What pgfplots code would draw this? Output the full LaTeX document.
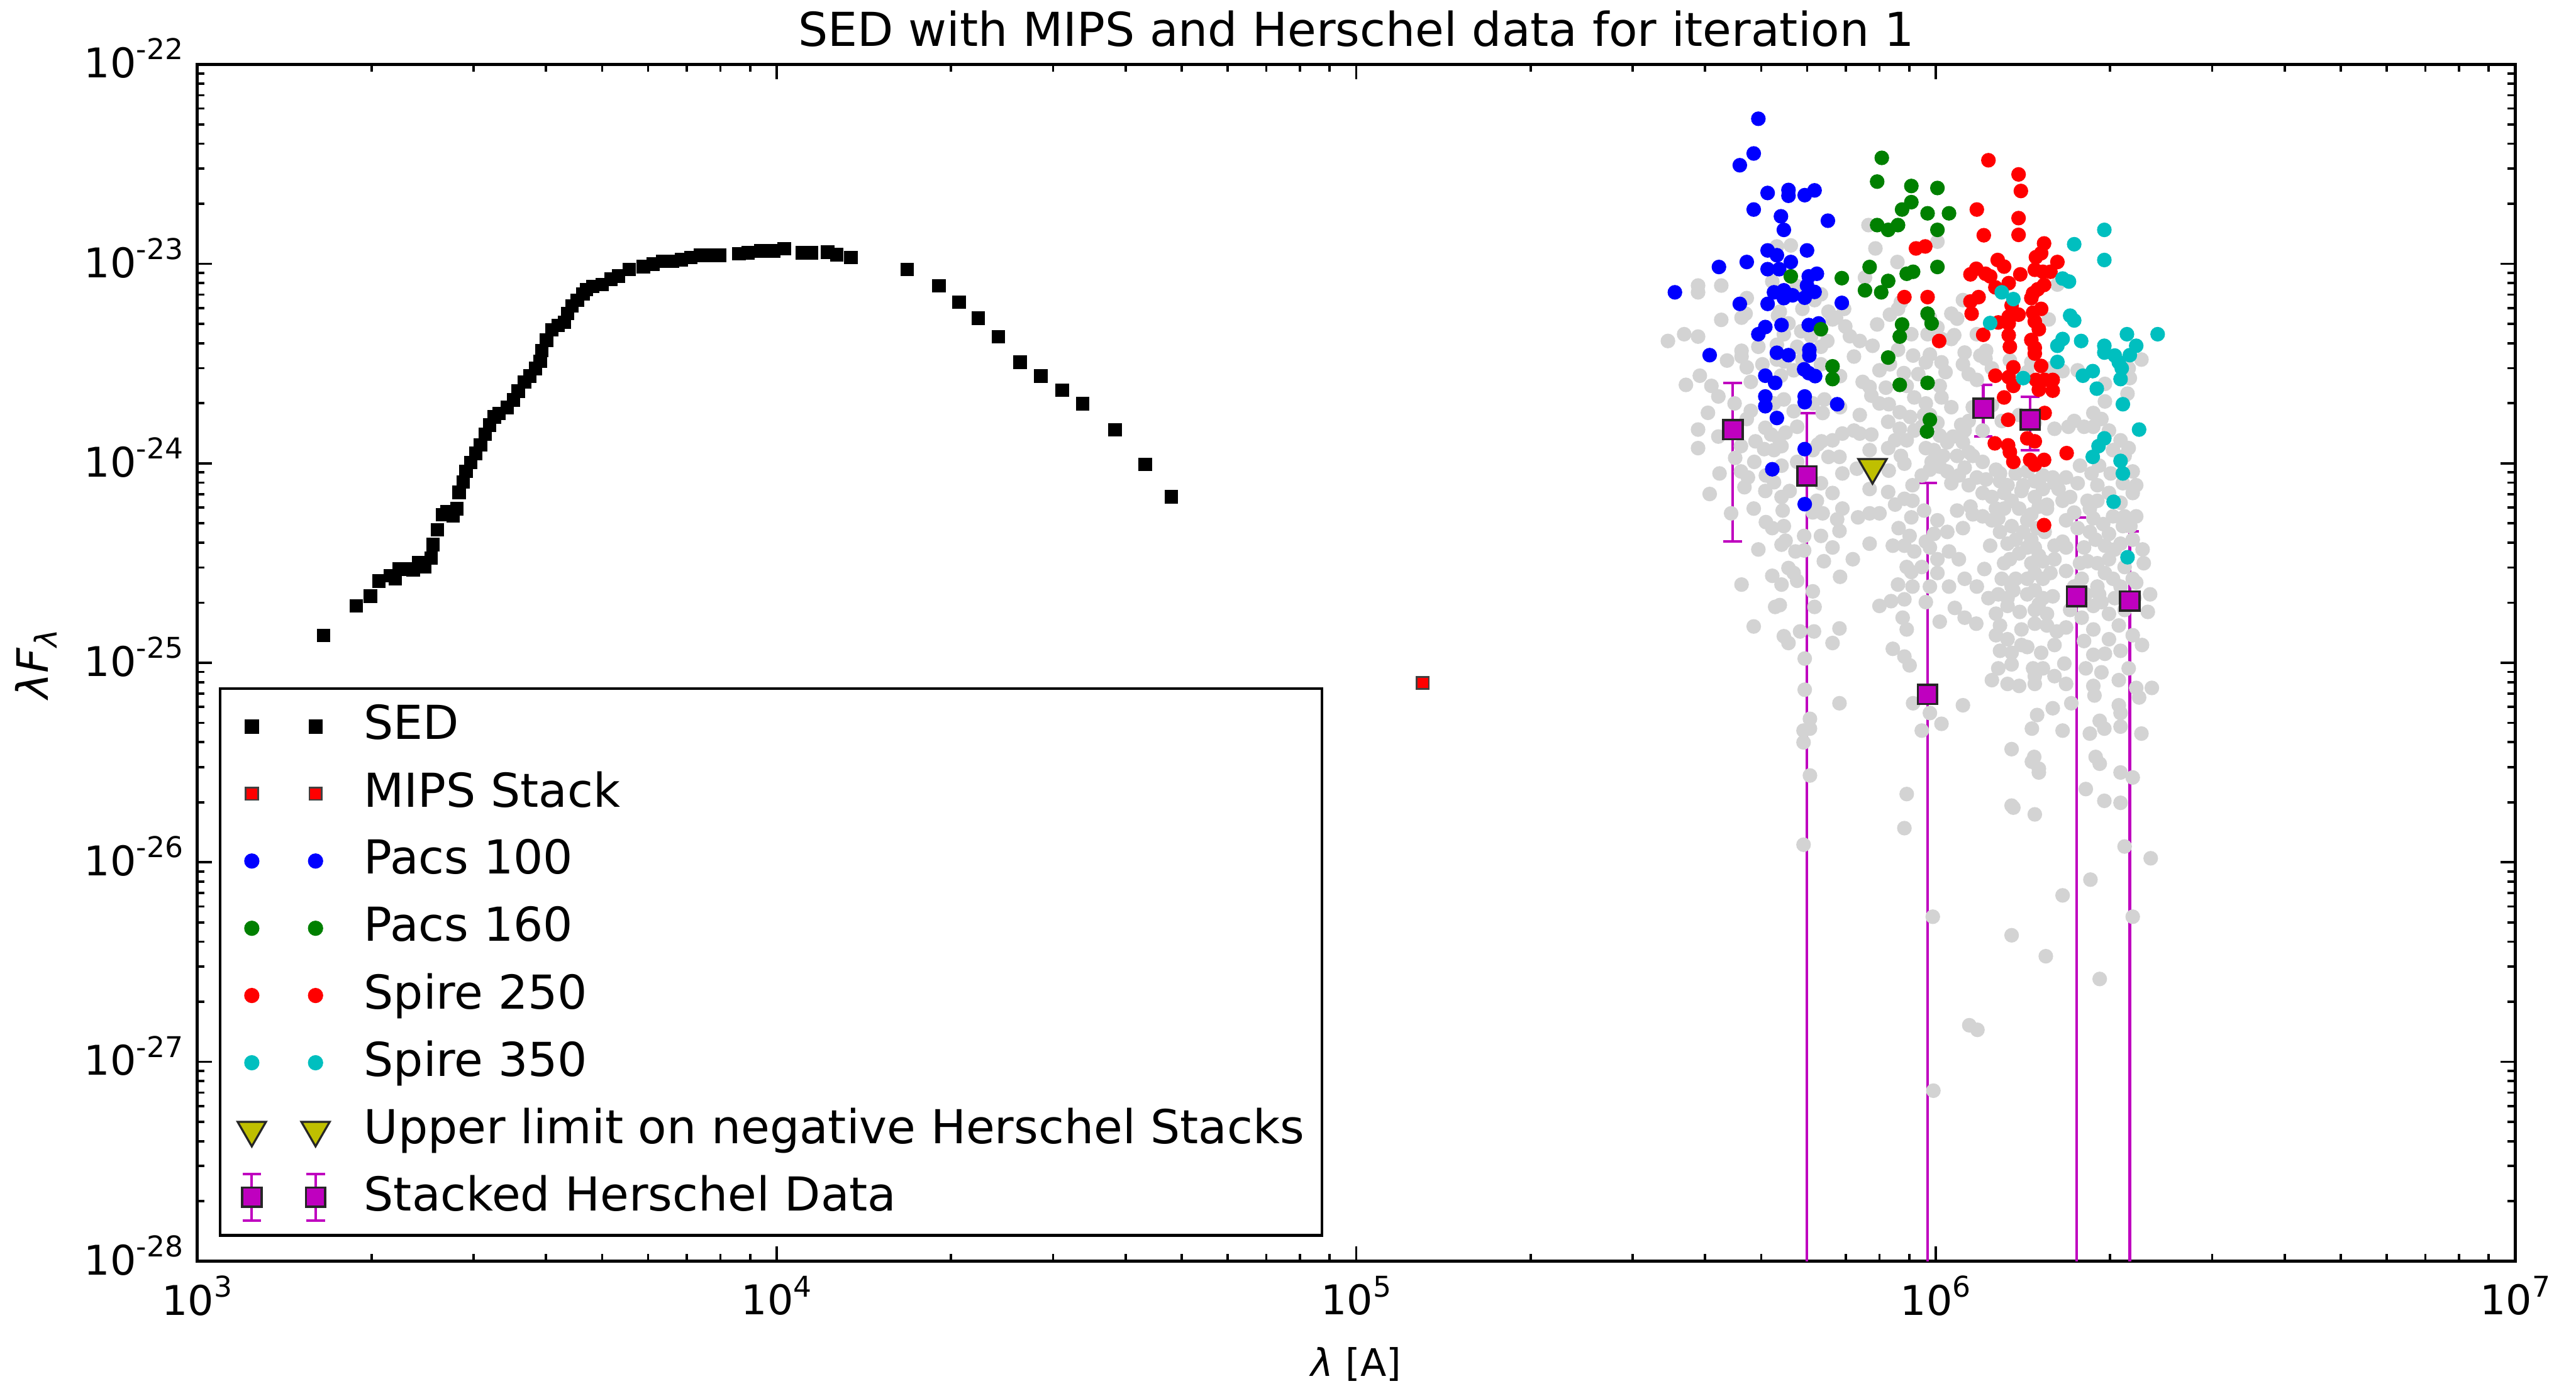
\documentclass[border=0pt]{standalone}
\usepackage{fontspec}
\setmainfont{DejaVu Sans}
\usepackage{pgfplots}
\usepackage{pgfplotstable}
\pgfplotsset{compat=1.18}
\definecolor{mplb}{rgb}{0,0,1}
\definecolor{mplg}{rgb}{0,0.5,0}
\definecolor{mplr}{rgb}{1,0,0}
\definecolor{mplc}{rgb}{0,0.75,0.75}
\definecolor{mply}{rgb}{0.75,0.75,0}
\definecolor{mplm}{rgb}{0.75,0,0.75}
\definecolor{lgray}{RGB}{211,211,211}
\newcommand{\fs}{\fontsize{8pt}{9.6pt}\selectfont}
\newcommand{\lfs}{\fontsize{6.5pt}{7.8pt}\selectfont}
\newcommand{\yfs}{\fontsize{7.4pt}{8.8pt}\selectfont}
\newcommand{\tfs}{\fontsize{7pt}{8.4pt}\selectfont}
\newcommand{\tl}[1]{10\raisebox{3.1pt}{\fontsize{4.9pt}{5.9pt}\selectfont #1}}
\pgfplotsset{legend image code/.code={\path[draw=none,fill=none] (-2.2pt,-4.5pt) rectangle (13.1pt,4.5pt);\draw[#1] plot coordinates {(0pt,0pt) (10.9pt,0pt)};}}
% values are log10(lambda [A]) and log10(lambda F_lambda)
\pgfplotstableread{
lx ly
3.218 -24.863
3.275 -24.714
3.299 -24.666
3.314 -24.590
3.333 -24.564
3.342 -24.579
3.349 -24.530
3.363 -24.530
3.373 -24.534
3.382 -24.497
3.393 -24.519
3.404 -24.475
3.407 -24.407
3.415 -24.333
3.424 -24.258
3.431 -24.243
3.442 -24.265
3.448 -24.228
3.452 -24.146
3.459 -24.093
3.464 -24.041
3.472 -23.996
3.481 -23.951
3.489 -23.907
3.497 -23.854
3.505 -23.809
3.513 -23.768
3.521 -23.750
3.535 -23.720
3.546 -23.682
3.554 -23.638
3.565 -23.593
3.574 -23.563
3.584 -23.525
3.592 -23.488
3.595 -23.436
3.603 -23.383
3.612 -23.331
3.623 -23.309
3.634 -23.294
3.639 -23.249
3.647 -23.212
3.656 -23.182
3.666 -23.152
3.672 -23.129
3.683 -23.114
3.699 -23.104
3.714 -23.077
3.727 -23.062
3.746 -23.029
3.770 -23.014
3.787 -23.002
3.803 -22.987
3.820 -22.987
3.836 -22.980
3.852 -22.969
3.869 -22.957
3.885 -22.957
3.902 -22.957
3.935 -22.950
3.951 -22.945
3.973 -22.935
3.995 -22.935
4.013 -22.924
4.044 -22.945
4.060 -22.945
4.088 -22.942
4.104 -22.954
4.128 -22.969
4.225 -23.029
4.280 -23.110
4.315 -23.192
4.348 -23.273
4.383 -23.365
4.420 -23.493
4.456 -23.563
4.493 -23.633
4.528 -23.702
4.584 -23.832
4.636 -24.005
4.681 -24.168
}\sedt
\pgfplotstableread{
lx ly
5.884 -22.806
5.750 -22.908
5.726 -22.913
5.896 -22.923
5.934 -22.991
5.590 -23.109
5.590 -23.143
5.630 -23.109
5.718 -23.089
5.878 -23.069
5.674 -23.172
5.791 -23.182
5.770 -23.226
5.815 -23.240
5.842 -23.226
5.672 -23.250
5.665 -23.270
5.731 -23.240
5.728 -23.260
5.630 -23.281
5.822 -23.279
5.844 -23.314
5.852 -23.363
5.813 -23.387
5.899 -23.304
5.921 -23.255
5.935 -23.226
5.940 -23.192
5.958 -23.353
5.538 -23.387
5.566 -23.353
5.590 -23.365
5.738 -23.353
5.785 -23.363
5.746 -23.299
5.891 -23.411
5.935 -23.431
5.961 -23.460
5.921 -23.504
5.665 -23.436
5.665 -23.465
5.674 -23.519
5.726 -23.406
5.726 -23.480
5.739 -23.490
5.593 -23.561
5.569 -23.607
5.733 -23.561
5.874 -23.592
5.886 -23.617
5.914 -23.621
5.945 -23.548
5.770 -23.480
5.761 -23.113
5.802 -23.153
5.828 -23.270
5.768 -23.338
5.802 -23.416
5.761 -23.416
5.694 -23.416
5.640 -23.485
5.701 -23.504
5.755 -23.534
5.802 -23.504
5.835 -23.563
5.903 -23.534
5.950 -23.612
5.613 -23.612
5.681 -23.592
5.859 -23.465
5.869 -23.387
6.003 -22.889
6.210 -23.104
6.047 -23.182
6.027 -23.250
6.037 -23.275
6.195 -23.279
5.986 -23.353
6.003 -23.319
6.032 -23.358
6.027 -23.377
6.071 -23.353
5.990 -23.455
5.983 -23.494
6.010 -23.494
6.050 -23.445
6.047 -23.504
6.077 -23.460
6.087 -23.436
6.086 -23.475
6.128 -23.484
6.165 -23.494
6.219 -23.538
6.245 -23.534
6.355 -23.480
6.335 -23.573
6.071 -23.582
5.970 -23.553
6.007 -23.612
6.010 -23.377
5.990 -23.270
6.017 -23.543
6.057 -23.553
6.097 -23.524
6.158 -23.543
6.198 -23.524
6.292 -23.602
6.333 -23.524
5.625 -23.665
5.738 -23.680
5.889 -23.661
5.919 -23.704
5.607 -23.747
5.681 -23.737
5.805 -23.748
5.938 -23.744
5.956 -23.768
5.590 -23.831
5.625 -23.866
5.689 -23.890
5.706 -23.822
5.716 -23.856
5.729 -23.875
5.741 -23.846
5.761 -23.817
5.839 -23.851
5.859 -23.836
5.869 -23.851
5.918 -23.792
5.938 -23.827
5.590 -23.924
5.664 -23.914
5.704 -23.929
5.721 -23.934
5.734 -23.914
5.803 -23.890
5.797 -23.905
5.815 -23.968
5.834 -23.968
5.886 -23.934
5.918 -23.924
5.950 -23.885
5.940 -23.963
5.946 -24.002
5.839 -24.051
5.864 -24.027
5.919 -24.037
5.664 -24.041
5.676 -24.071
5.707 -24.061
5.721 -24.095
5.670 -24.120
5.610 -24.154
5.706 -24.139
5.734 -24.169
5.748 -24.139
5.918 -24.144
5.930 -24.207
5.946 -24.178
5.686 -24.227
5.736 -24.237
5.788 -24.246
5.805 -24.251
5.830 -24.281
5.866 -24.271
5.886 -24.251
5.903 -24.251
5.958 -24.271
5.647 -24.251
5.707 -24.295
5.718 -24.325
5.738 -24.315
5.773 -24.364
5.802 -24.364
5.834 -24.339
5.955 -24.364
5.694 -24.432
5.734 -24.408
5.741 -24.388
5.773 -24.437
5.857 -24.481
5.807 -24.491
5.926 -24.413
5.946 -24.413
5.950 -24.520
5.958 -24.545
5.746 -24.525
5.755 -24.550
5.718 -24.564
5.665 -24.608
5.734 -24.608
5.761 -24.589
5.788 -24.642
5.935 -24.608
5.923 -24.691
5.946 -24.682
5.723 -24.720
5.731 -24.711
5.791 -24.720
5.943 -24.774
5.950 -24.833
5.686 -24.818
5.766 -24.843
5.790 -24.843
5.834 -24.828
5.738 -24.867
5.746 -24.901
5.822 -24.901
5.926 -24.930
5.946 -24.969
5.955 -25.013
5.774 -24.979
5.774 -25.135
5.653 -23.700
5.674 -23.778
5.721 -23.700
5.755 -23.739
5.788 -23.700
5.808 -23.680
5.835 -23.719
5.869 -23.758
5.903 -23.700
5.963 -23.670
5.963 -23.836
5.930 -23.885
5.889 -23.856
5.822 -23.885
5.788 -23.934
5.761 -23.993
5.734 -24.012
5.687 -23.993
5.654 -23.973
5.627 -24.051
5.802 -24.100
5.822 -24.149
5.886 -24.129
5.960 -24.110
5.795 -24.188
5.839 -24.227
5.960 -24.188
5.936 -24.325
5.758 -24.442
5.822 -24.422
5.886 -24.403
5.963 -24.442
5.835 -24.569
5.960 -24.618
5.903 -24.715
5.983 -23.700
5.980 -23.758
5.976 -23.817
6.027 -23.719
6.007 -23.861
6.044 -23.807
6.057 -23.788
5.983 -23.924
5.997 -23.934
6.020 -23.895
6.037 -23.963
6.057 -23.944
6.064 -23.963
6.081 -23.993
6.020 -24.041
6.040 -24.061
6.007 -24.017
5.990 -24.032
5.976 -24.061
6.071 -24.071
6.104 -24.032
6.111 -24.090
6.124 -24.110
6.151 -24.110
6.171 -24.090
6.185 -24.129
6.097 -24.169
6.118 -24.149
6.131 -24.188
6.148 -24.139
6.171 -24.169
6.192 -24.208
6.202 -24.071
6.212 -24.129
6.232 -24.169
6.219 -24.188
6.249 -24.012
6.229 -23.817
6.256 -23.817
6.239 -23.788
6.272 -23.748
6.286 -23.778
6.269 -24.051
6.292 -23.690
6.331 -23.651
6.319 -23.885
6.333 -23.924
6.340 -24.041
6.346 -24.110
6.323 -24.100
6.340 -24.149
6.262 -24.188
6.279 -24.188
6.319 -24.198
6.326 -24.266
6.037 -24.237
6.060 -24.217
6.064 -24.256
6.003 -24.286
5.980 -24.237
6.104 -24.227
6.108 -24.276
6.131 -24.315
6.165 -24.256
6.178 -24.217
6.192 -24.227
6.266 -24.227
6.272 -24.276
6.289 -24.305
6.299 -24.354
6.323 -24.315
6.336 -24.315
6.266 -24.344
6.276 -24.383
6.205 -24.413
6.219 -24.393
6.165 -24.383
6.171 -24.422
6.124 -24.403
6.138 -24.383
6.094 -24.413
6.144 -24.452
6.118 -24.501
6.128 -24.481
6.178 -24.462
6.185 -24.491
6.225 -24.422
6.256 -24.422
6.292 -24.413
6.309 -24.432
6.319 -24.403
6.357 -24.432
5.983 -24.393
5.990 -24.422
6.003 -24.481
6.023 -24.442
6.040 -24.481
5.976 -24.520
6.003 -24.550
6.084 -24.530
6.165 -24.501
6.171 -24.550
6.185 -24.579
6.114 -24.579
6.131 -24.618
6.138 -24.579
6.225 -24.540
6.249 -24.501
6.262 -24.491
6.279 -24.501
6.292 -24.550
6.306 -24.579
6.346 -24.598
6.279 -24.618
6.282 -24.657
6.171 -24.637
6.185 -24.676
6.202 -24.667
6.108 -24.657
6.124 -24.676
6.134 -24.637
6.272 -24.715
6.286 -24.696
6.370 -24.657
6.366 -24.745
6.309 -24.676
6.033 -24.725
6.050 -24.774
6.070 -24.804
6.007 -24.794
6.104 -24.754
6.111 -24.813
6.145 -24.745
6.171 -24.735
6.171 -24.804
6.192 -24.813
6.209 -24.843
6.225 -24.823
6.272 -24.833
6.316 -24.813
6.104 -24.862
6.124 -24.882
6.148 -24.833
6.148 -24.911
6.158 -24.921
6.182 -24.950
6.111 -24.940
6.131 -24.950
6.272 -24.960
6.292 -24.955
6.319 -24.940
6.108 -25.028
6.131 -25.008
6.168 -25.028
6.171 -25.067
6.222 -25.004
6.259 -25.028
6.144 -25.116
6.171 -25.106
6.225 -25.106
6.272 -25.116
6.316 -25.087
6.373 -25.126
6.097 -23.709
6.114 -23.788
6.144 -23.758
6.205 -23.827
6.171 -23.797
6.064 -23.719
6.050 -23.836
6.081 -23.836
6.010 -23.670
5.990 -23.758
6.003 -23.797
6.030 -23.866
6.047 -23.895
6.013 -23.963
5.993 -23.993
6.050 -24.022
6.027 -24.100
6.057 -24.110
6.087 -24.081
6.081 -24.149
6.111 -24.051
6.138 -24.051
6.158 -24.041
6.185 -24.061
6.205 -24.100
6.225 -24.071
6.245 -24.100
6.118 -24.227
6.144 -24.227
6.158 -24.286
6.175 -24.325
6.188 -24.344
6.151 -24.344
6.111 -24.344
6.097 -24.286
6.081 -24.266
6.047 -24.325
6.020 -24.344
5.997 -24.354
6.158 -24.422
6.205 -24.481
6.198 -24.550
6.158 -24.579
6.158 -24.657
6.178 -24.706
6.192 -24.755
6.124 -24.715
6.091 -24.676
6.071 -24.618
6.050 -24.579
6.023 -24.618
5.990 -24.618
5.983 -24.696
6.272 -23.817
6.299 -23.836
6.306 -23.934
6.282 -24.012
6.302 -24.051
6.326 -23.963
6.279 -24.110
6.299 -24.149
6.239 -24.247
6.225 -24.286
6.245 -24.325
6.306 -24.266
6.346 -24.266
6.340 -24.383
6.299 -24.481
6.326 -24.520
6.340 -24.579
6.319 -24.618
6.252 -24.579
6.239 -24.618
6.259 -24.657
6.359 -24.501
6.232 -24.735
6.252 -24.774
6.299 -24.755
6.326 -24.735
6.343 -24.676
6.256 -24.891
6.299 -24.882
6.340 -24.862
6.356 -24.911
6.205 -24.911
6.185 -25.028
6.205 -25.067
6.097 -25.087
6.124 -25.106
6.286 -25.048
6.333 -25.028
6.346 -25.126
5.834 -25.203
5.783 -25.281
5.783 -25.330
5.772 -25.340
5.772 -25.399
5.783 -25.565
5.772 -25.912
5.950 -25.658
5.946 -25.829
5.961 -25.203
5.990 -25.252
6.010 -25.306
5.976 -25.340
6.047 -25.213
6.175 -25.262
6.202 -25.228
6.166 -25.330
6.219 -25.340
6.234 -25.203
6.266 -25.355
6.283 -25.291
6.291 -25.330
6.319 -25.320
6.316 -25.213
6.319 -25.252
6.355 -25.355
6.351 -25.174
6.274 -25.164
6.131 -25.433
6.170 -25.472
6.166 -25.496
6.178 -25.531
6.178 -25.550
6.276 -25.472
6.283 -25.506
6.319 -25.550
6.340 -25.575
6.259 -25.633
6.291 -25.692
6.319 -25.702
6.131 -25.716
6.134 -25.726
6.171 -25.760
6.326 -25.921
6.371 -25.980
6.267 -26.087
6.219 -26.166
5.995 -26.273
6.340 -26.273
6.131 -26.366
6.190 -26.471
6.283 -26.585
6.058 -26.817
6.072 -26.840
5.996 -27.145
}\grayt
\pgfplotstableread{
lx ly
5.694 -22.273
5.686 -22.447
5.662 -22.506
5.710 -22.645
5.746 -22.630
5.746 -22.659
5.774 -22.656
5.791 -22.632
5.686 -22.728
5.733 -22.762
5.738 -22.830
5.814 -22.784
5.710 -22.933
5.726 -22.957
5.778 -22.933
5.674 -22.991
5.626 -23.016
5.750 -22.991
5.710 -23.027
5.730 -23.027
5.781 -23.063
5.795 -23.050
5.778 -23.109
5.550 -23.143
5.721 -23.143
5.738 -23.133
5.744 -23.153
5.753 -23.158
5.738 -23.172
5.774 -23.170
5.791 -23.141
5.662 -23.201
5.710 -23.201
5.838 -23.196
5.706 -23.317
5.694 -23.353
5.734 -23.307
5.781 -23.307
5.798 -23.299
5.610 -23.458
5.726 -23.446
5.746 -23.458
5.782 -23.431
5.782 -23.460
5.773 -23.529
5.781 -23.548
5.792 -23.563
5.706 -23.561
5.723 -23.597
5.706 -23.665
5.706 -23.714
5.774 -23.665
5.774 -23.694
5.830 -23.704
5.726 -23.773
5.774 -23.929
5.718 -24.030
5.774 -24.205
}\bluet
\pgfplotstableread{
lx ly
5.907 -22.469
5.899 -22.588
5.958 -22.610
5.958 -22.691
5.942 -22.728
5.899 -22.806
5.918 -22.830
5.935 -22.806
5.886 -23.016
5.950 -23.050
5.961 -23.040
5.838 -23.072
5.918 -23.086
5.750 -23.063
5.878 -23.133
5.906 -23.143
5.802 -23.328
5.942 -23.304
5.938 -23.365
5.918 -23.470
5.822 -23.514
5.822 -23.578
5.938 -23.607
6.003 -22.620
5.986 -22.747
6.023 -22.747
6.003 -22.830
6.003 -23.016
5.986 -23.250
5.993 -23.299
5.986 -23.597
5.990 -23.782
5.985 -23.841
}\greent
\pgfplotstableread{
lx ly
6.091 -22.481
6.143 -22.552
6.147 -22.635
6.071 -22.728
6.143 -22.771
6.083 -22.857
6.143 -22.855
6.187 -22.898
6.182 -22.947
6.173 -22.967
6.210 -22.991
6.107 -22.981
6.118 -23.014
6.070 -23.025
6.060 -23.053
6.086 -23.050
6.094 -23.063
6.146 -23.053
6.171 -23.030
6.185 -23.040
6.198 -23.040
6.126 -23.097
6.103 -23.118
6.187 -23.106
6.176 -23.128
6.168 -23.148
6.165 -23.172
6.074 -23.167
6.060 -23.189
5.986 -23.167
5.946 -23.167
6.062 -23.250
6.131 -23.209
6.143 -23.255
6.126 -23.265
6.108 -23.294
6.126 -23.299
6.182 -23.226
6.168 -23.245
6.171 -23.289
6.178 -23.328
6.126 -23.358
6.082 -23.356
6.006 -23.387
6.128 -23.416
6.165 -23.382
6.171 -23.421
6.171 -23.450
6.134 -23.519
6.182 -23.512
6.103 -23.561
6.126 -23.568
6.173 -23.582
6.188 -23.582
6.202 -23.582
6.134 -23.612
6.178 -23.631
6.202 -23.636
5.966 -22.923
5.982 -22.913
6.118 -23.670
6.188 -23.748
6.125 -23.782
6.102 -23.900
6.125 -23.910
6.128 -23.944
6.134 -23.993
6.158 -23.875
6.171 -23.890
6.163 -23.983
6.171 -24.007
6.187 -23.983
6.226 -23.949
6.187 -24.310
}\redt
\pgfplotstableread{
lx ly
6.291 -22.830
6.239 -22.902
6.291 -22.981
6.219 -23.074
6.230 -23.089
6.114 -23.143
6.134 -23.177
6.232 -23.260
6.239 -23.284
6.094 -23.297
6.330 -23.353
6.383 -23.353
6.219 -23.377
6.210 -23.411
6.251 -23.387
6.291 -23.411
6.291 -23.445
6.346 -23.411
6.309 -23.460
6.335 -23.458
6.316 -23.494
6.321 -23.524
6.210 -23.492
6.271 -23.538
6.254 -23.561
6.319 -23.578
6.151 -23.573
6.278 -23.626
6.323 -23.704
6.351 -23.831
6.291 -23.875
6.281 -23.914
6.271 -23.968
6.319 -23.988
6.323 -24.051
6.307 -24.193
6.331 -24.471
}\cyant
\pgfplotstableread{
lx ly ep em
5.650 -23.831 0.234 0.560
5.778 -24.063 0.315 10
5.986 -25.158 1.060 10
6.082 -23.724 0.116 0.142
6.163 -23.782 0.114 0.152
6.243 -24.667 0.396 10
6.335 -24.691 0.349 10
}\stackt
\begin{document}
\begin{tikzpicture}
\useasboundingbox (-33.7pt,-22.1pt) rectangle (406.8pt,215.7pt);
\begin{axis}[
  at={(0pt,0pt)}, anchor=south west,
  width=396.4pt, height=204.7pt, scale only axis,
  xmin=3, xmax=7, ymin=-28, ymax=-22,
  xtick={3,4,5,6,7},
  xticklabels={\tl{3},\tl{4},\tl{5},\tl{6},\tl{7}},
  ytick={-28,-27,-26,-25,-24,-23,-22},
  yticklabels={\tl{-28},\tl{-27},\tl{-26},\tl{-25},\tl{-24},\tl{-23},\tl{-22}},
  minor xtick={3.30103,3.47712,3.60206,3.69897,3.77815,3.84510,3.90309,3.95424,4.30103,4.47712,4.60206,4.69897,4.77815,4.84510,4.90309,4.95424,5.30103,5.47712,5.60206,5.69897,5.77815,5.84510,5.90309,5.95424,6.30103,6.47712,6.60206,6.69897,6.77815,6.84510,6.90309,6.95424},
  minor ytick={-27.69897,-27.52288,-27.39794,-27.30103,-27.22185,-27.15490,-27.09691,-27.04576,-26.69897,-26.52288,-26.39794,-26.30103,-26.22185,-26.15490,-26.09691,-26.04576,-25.69897,-25.52288,-25.39794,-25.30103,-25.22185,-25.15490,-25.09691,-25.04576,-24.69897,-24.52288,-24.39794,-24.30103,-24.22185,-24.15490,-24.09691,-24.04576,-23.69897,-23.52288,-23.39794,-23.30103,-23.22185,-23.15490,-23.09691,-23.04576,-22.69897,-22.52288,-22.39794,-22.30103,-22.22185,-22.15490,-22.09691,-22.04576},
  major tick length=2.5pt, minor tick length=1.3pt,
  tick style={black, line width=0.4pt},
  axis line style={black, line width=0.5pt},
  tick label style={font=\tfs},
  xticklabel style={inner sep=0pt, anchor=north, yshift=-2.3pt},
  yticklabel style={inner sep=0pt, anchor=east, xshift=-2.2pt, yshift=1pt},
  title={SED with MIPS and Herschel data for iteration 1},
  every axis title shift=0pt,
  title style={font=\fs, at={(axis description cs:0.5,1.01514)}, anchor=base, yshift=0pt, inner sep=0pt},
  xlabel={\textit{λ} [A]},
  xlabel style={font=\lfs, at={(axis description cs:0.5,-0.09624)}, anchor=base, yshift=0pt, inner sep=0pt},
  ylabel={\textit{λF}\textsubscript{\textit{λ}}},
  ylabel style={font=\yfs, at={(axis description cs:-0.0694,0.5)}, anchor=center, inner sep=0pt},
  legend cell align=left,
  legend style={at={(axis description cs:0.0093,0.0205)}, anchor=south west, draw=black, line width=0.5pt, fill=white, inner xsep=3.0pt, inner ysep=2pt, row sep=2.5pt, column sep=5.85pt, font=\fs, nodes={inner sep=0pt}},
]
\addplot[only marks, mark=*, mark size=1.05pt, color=lgray, mark options={draw=none, fill=lgray}, forget plot] table[x=lx,y=ly]{\grayt};
\addplot[only marks, mark=square*, mark size=0.95pt, color=black, forget plot] table[x=lx,y=ly]{\sedt};
\addplot[only marks, mark=square*, mark size=1.05pt, color=mplr, mark options={fill=mplr, draw=black!75, line width=0.3pt}, forget plot] coordinates {(5.115,-25.101)};
\addplot[only marks, mark=*, mark size=1.05pt, color=mplb, mark options={draw=none, fill=mplb}, forget plot] table[x=lx,y=ly]{\bluet};
\addplot[only marks, mark=*, mark size=1.05pt, color=mplg, mark options={draw=none, fill=mplg}, forget plot] table[x=lx,y=ly]{\greent};
\addplot[only marks, mark=*, mark size=1.05pt, color=mplr, mark options={draw=none, fill=mplr}, forget plot] table[x=lx,y=ly]{\redt};
\addplot[only marks, mark=*, mark size=1.05pt, color=mplc, mark options={draw=none, fill=mplc}, forget plot] table[x=lx,y=ly]{\cyant};
\addplot[only marks, mark=triangle*, mark size=2.8pt, color=mply, mark options={rotate=180, fill=mply, draw=black!85, line width=0.35pt}, forget plot] coordinates {(5.891,-24.02)};
\addplot[only marks, mark=square*, mark size=1.65pt, color=mplm, mark options={fill=mplm, draw=black!85, line width=0.4pt}, forget plot,
  error bars/.cd, y dir=both, y explicit, error bar style={color=mplm, line width=0.45pt},
  error mark options={rotate=90, mark size=1.6pt, color=mplm, line width=0.45pt}]
  table[x=lx, y=ly, y error plus=ep, y error minus=em]{\stackt};

\addlegendimage{only marks, mark=square*, mark size=0.95pt, color=black}
\addlegendentry{SED}
\addlegendimage{only marks, mark=square*, mark size=1.05pt, color=mplr, mark options={fill=mplr, draw=black!75, line width=0.3pt}}
\addlegendentry{MIPS Stack}
\addlegendimage{only marks, mark=*, mark size=1.05pt, color=mplb, mark options={draw=none, fill=mplb}}
\addlegendentry{Pacs 100}
\addlegendimage{only marks, mark=*, mark size=1.05pt, color=mplg, mark options={draw=none, fill=mplg}}
\addlegendentry{Pacs 160}
\addlegendimage{only marks, mark=*, mark size=1.05pt, color=mplr, mark options={draw=none, fill=mplr}}
\addlegendentry{Spire 250}
\addlegendimage{only marks, mark=*, mark size=1.05pt, color=mplc, mark options={draw=none, fill=mplc}}
\addlegendentry{Spire 350}
\addlegendimage{only marks, mark=triangle*, mark size=2.8pt, color=mply, mark options={rotate=180, fill=mply, draw=black!85, line width=0.35pt}}
\addlegendentry{Upper limit on negative Herschel Stacks}
\addlegendimage{legend image code/.code={\path[draw=none,fill=none] (-2.2pt,-4.5pt) rectangle (13.1pt,4.5pt);
  \draw[mplm, line width=0.45pt] (0pt,-4pt)--(0pt,4pt) (-1.6pt,-4pt)--(1.6pt,-4pt) (-1.6pt,4pt)--(1.6pt,4pt) (10.9pt,-4pt)--(10.9pt,4pt) (9.3pt,-4pt)--(12.5pt,-4pt) (9.3pt,4pt)--(12.5pt,4pt);
  \draw[only marks, mark=square*, mark size=1.65pt, mark options={fill=mplm, draw=black!85, line width=0.4pt}] plot coordinates {(0pt,0pt) (10.9pt,0pt)};}}
\addlegendentry{Stacked Herschel Data}
\end{axis}
\end{tikzpicture}
\end{document}
